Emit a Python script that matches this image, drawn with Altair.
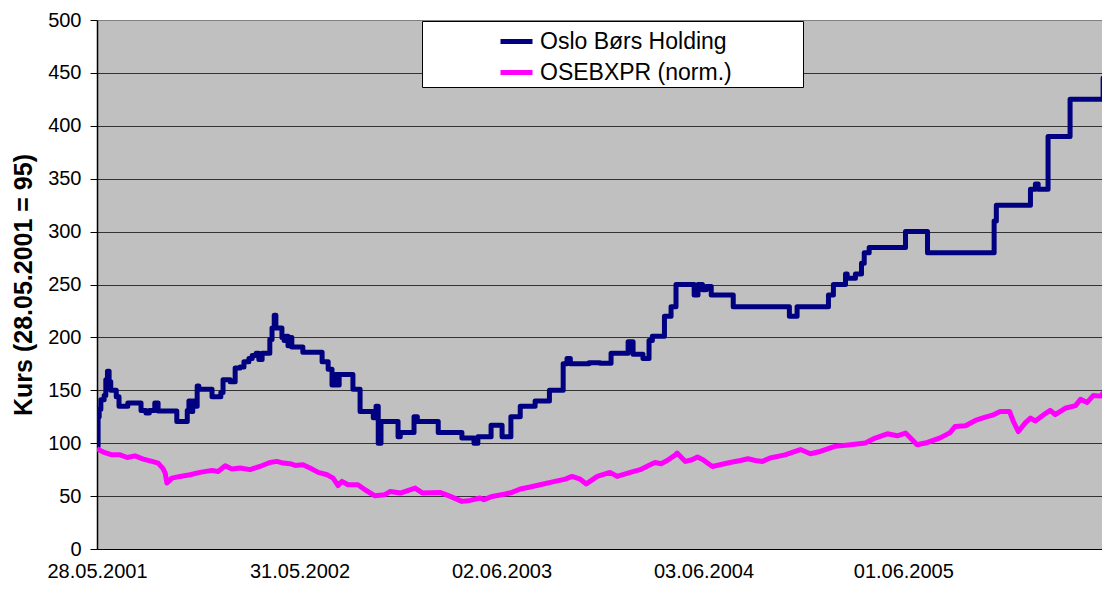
import altair as alt
import pandas as pd

FONT = "Liberation Sans"
BASE_DATE = "2001-05-28"

series_names = ["Oslo Børs Holding", "OSEBXPR (norm.)"]
series_colors = ["#000080", "#FF00FF"]

# Oslo Børs Holding: (days after 28.05.2001, price) at each price change
holding_days = [0, 2, 4, 7, 13, 16, 19, 22, 25, 35, 40, 56, 80, 89, 95, 105, 111,
                145, 164, 167, 171, 174, 178, 182, 185, 209, 225, 229, 242, 251,
                260, 267, 276, 282, 289, 294, 300, 314, 318, 322, 325, 336, 340,
                343, 347, 351, 354, 374, 409, 420, 427, 433, 436, 440, 465, 478,
                502, 507, 511, 516, 547, 551, 576, 582, 620, 663, 685, 692, 716,
                736, 752, 769, 796, 822, 847, 854, 860, 894, 914, 934, 965, 974,
                992, 1003, 1009, 1031, 1043, 1052, 1085, 1092, 1100, 1107, 1116,
                1156, 1258, 1272, 1329, 1338, 1360, 1363, 1378, 1389, 1394, 1403,
                1469, 1509, 1630, 1634, 1696, 1705, 1710, 1728, 1768, 1828, 1841]
holding_vals = [97, 125, 132, 141, 145, 160, 168, 158, 150, 144, 135, 138, 131,
                128.5, 131, 138, 130.5, 120.5, 131, 140, 130, 140, 135, 154, 151,
                144, 148, 160, 158, 171, 172, 177, 180, 183, 185, 179, 185, 198,
                209, 221, 209, 200, 197, 201, 192, 200, 191, 186, 177, 170, 155,
                165, 155, 165, 151, 130, 124, 135, 100, 120.5, 106, 110, 125,
                120.5, 110, 105, 100, 106, 117, 106, 125, 135, 140, 150, 175, 180,
                175, 176, 175.5, 185, 196, 184, 180, 197, 201, 220, 229, 250, 240,
                250, 245, 248, 240, 229, 220, 229, 240, 250, 260, 256, 260, 270,
                280, 285, 300, 280, 310, 325, 340, 345, 340, 390, 425, 445, 445]

# OSEBXPR normalised: (days after 28.05.2001, index level)
osebx_days = [0, 13, 27, 42, 55, 69, 84, 100, 111, 120, 124, 127, 136, 151, 169,
              187, 209, 220, 233, 245, 260, 278, 296, 314, 327, 338, 351, 360,
              374, 387, 402, 418, 429, 438, 445, 456, 474, 487, 505, 523, 533,
              551, 578, 591, 623, 642, 663, 678, 696, 703, 718, 742, 754, 769,
              787, 805, 832, 851, 863, 878, 889, 909, 932, 945, 969, 987, 1005,
              1014, 1025, 1036, 1051, 1054, 1069, 1081, 1091, 1101, 1118, 1132,
              1150, 1169, 1183, 1196, 1209, 1223, 1250, 1278, 1296, 1314, 1341,
              1369, 1396, 1414, 1436, 1454, 1469, 1478, 1490, 1509, 1532, 1550,
              1559, 1578, 1596, 1614, 1627, 1641, 1658, 1665, 1674, 1687, 1696,
              1705, 1723, 1732, 1741, 1759, 1778, 1787, 1799, 1810, 1823, 1832,
              1841]
osebx_vals = [94.7, 91.3, 89, 89, 86.5, 88, 85, 82.8, 81.2, 76, 71.8, 62.3, 67,
              68.6, 70.2, 72.4, 74.3, 73.3, 78.7, 75.6, 76.5, 75, 78, 81.8, 82.8,
              81.2, 80.6, 79, 79.6, 76.5, 72.4, 70.2, 67, 60, 63.9, 60.7, 60.7,
              56, 50.3, 51.3, 54.4, 52.9, 57.6, 53, 53.5, 49.7, 45, 45.9, 48.2,
              46.6, 49.7, 52, 53.5, 56.7, 58.6, 60.7, 63.9, 66, 68.6, 66, 61.5,
              68.6, 72.4, 68.6, 72.4, 75, 79.6, 81.8, 80.6, 83.7, 89, 90.7, 82.8,
              84.4, 86.9, 84.4, 78, 79.6, 81.8, 83.7, 85.3, 83.7, 82.8, 86, 89,
              94, 90, 92.2, 97, 98.5, 100.1, 104.9, 108.9, 107, 109.6, 105, 98.5,
              100.7, 105, 110, 115.8, 116.5, 121.5, 124.7, 126.5, 130, 130, 120.5,
              111, 119.5, 123.7, 121, 128, 131, 127, 133, 135.5, 141.5, 138.5,
              145, 144.5, 149.5, 155]

tick_dates = [(2001, 5, 28), (2002, 5, 31), (2003, 6, 2), (2004, 6, 3), (2005, 6, 1)]
x_end = (2006, 5, 28)
y_ticks = list(range(0, 501, 50))

base = pd.Timestamp(BASE_DATE)
df_h = pd.DataFrame({
    "date": base + pd.to_timedelta(holding_days, unit="D"),
    "value": holding_vals,
    "series": series_names[0],
})
df_o = pd.DataFrame({
    "date": base + pd.to_timedelta(osebx_days, unit="D"),
    "value": osebx_vals,
    "series": series_names[1],
})


def dt(t):
    return alt.DateTime(year=t[0], month=t[1], date=t[2])


x_enc = alt.X(
    "date:T",
    scale=alt.Scale(domain=[dt(tick_dates[0]), dt(x_end)]),
    axis=alt.Axis(
        values=[dt(t) for t in tick_dates],
        format="%d.%m.%Y",
        ticks=False,
        tickSize=0,
        grid=False,
        domainColor="black",
        domainWidth=1,
        labelFont=FONT,
        labelFontSize=20,
        labelColor="black",
        labelPadding=12,
        labelAlign="center",
        labelFlush=False,
        labelOverlap=False,
        title=None,
    ),
)

y_enc = alt.Y(
    "value:Q",
    scale=alt.Scale(domain=[0, 500], nice=False),
    axis=alt.Axis(
        values=y_ticks,
        tickSize=7,
        tickColor="black",
        domainColor="black",
        domainWidth=1.5,
        labelFont=FONT,
        labelFontSize=20,
        labelColor="black",
        labelPadding=9,
        grid=True,
        gridColor=alt.condition("datum.value === 500", alt.value("#808080"), alt.value("#333333")),
        gridWidth=1.2,
        title="Kurs (28.05.2001 = 95)",
        titleFont=FONT,
        titleFontSize=25,
        titleFontWeight="bold",
        titleColor="black",
        titleAngle=270,
        titleX=-74,
        titleY=264.5,
        titleAlign="center",
        titleBaseline="middle",
    ),
)

legend = alt.Legend(
    orient="none",
    legendX=325,
    legendY=1,
    title="XXXX",
    titleOrient="right",
    titleOpacity=0,
    titleFontSize=23,
    titlePadding=7,
    fillColor="white",
    strokeColor="black",
    padding=2,
    symbolType="stroke",
    symbolSize=1024,
    symbolStrokeWidth=5,
    symbolOffset=74,
    labelOffset=5,
    rowPadding=0,
    labelFont=FONT,
    labelFontSize=23,
    labelColor="black",
    labelLimit=0,
)

color_enc = alt.Color(
    "series:N",
    scale=alt.Scale(domain=series_names, range=series_colors),
    sort=series_names,
    legend=legend,
)

holding = alt.Chart(df_h).mark_line(
    interpolate="step-after", strokeWidth=5, strokeJoin="round", clip=True
).encode(x=x_enc, y=y_enc, color=color_enc)

osebx = alt.Chart(df_o).mark_line(
    strokeWidth=5, strokeJoin="round", clip=True
).encode(x=x_enc, y=y_enc, color=color_enc)

chart = alt.layer(holding, osebx).properties(
    width=1005,
    height=529,
    padding={"left": 89, "top": 12, "right": 0, "bottom": 32},
    autosize=alt.AutoSizeParams(type="none"),
    background="white",
).configure_view(fill="#C0C0C0", stroke=None)

chart.save("out.html", embed_options={"renderer": "svg", "actions": False})
